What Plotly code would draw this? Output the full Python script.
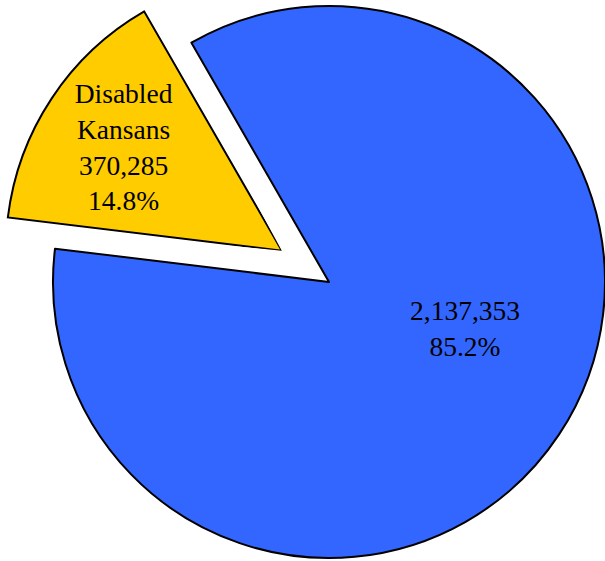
import math
import plotly.graph_objects as go

# Kansas population split by disability status
labels = ["Disabled Kansans", "Other Kansans"]
values = [370285, 2137353]
colors = ["#FFCC00", "#3366FF"]
label_names = ["Disabled<br>Kansans", ""]

W, H = 605, 561
FONT = "Liberation Serif"
FONT_SIZE = 27.5
EDGE = 2

total = sum(values)
shares = [v / total for v in values]
spans = [s * 360.0 for s in shares]

# geometry of the pie (pixels)
start_ccw = 29.9      # edge of the disabled wedge, degrees counterclockwise from 12 o'clock
pull = 0.205          # explode distance as a fraction of the radius
R = 276
cx, cy = 329, 282

fig = go.Figure()

# main pie: only the large slice is painted, the exploded one is drawn separately
fig.add_trace(go.Pie(
    labels=labels,
    values=values,
    sort=False,
    direction="clockwise",
    rotation=-(start_ccw + spans[0]),
    marker=dict(colors=["rgba(0,0,0,0)", colors[1]],
                line=dict(color=["rgba(0,0,0,0)", "black"], width=EDGE)),
    textinfo="none",
    hoverinfo="skip",
    showlegend=False,
    domain=dict(x=[(cx - R) / W, (cx + R) / W],
                y=[1 - (cy + R) / H, 1 - (cy - R) / H]),
))

# exploded wedge as a polar bar in a sector-limited polar subplot
mid = start_ccw + spans[0] / 2
apex_x = cx - pull * R * math.sin(math.radians(mid))
apex_y = cy - pull * R * math.cos(math.radians(mid))

pad = 1.5
rmax = 1.015
a0 = 90 + start_ccw - pad
a1 = 90 + start_ccw + spans[0] + pad
xs = [0.0, math.cos(math.radians(a0)), math.cos(math.radians(a1))]
ys = [0.0, math.sin(math.radians(a0)), math.sin(math.radians(a1))]
for k in (0, 90, 180, 270, 360, 450):
    if a0 <= k <= a1:
        xs.append(math.cos(math.radians(k)))
        ys.append(math.sin(math.radians(k)))
Rp = R * rmax
left = apex_x + Rp * min(xs)
right = apex_x + Rp * max(xs)
top = apex_y - Rp * max(ys)
bottom = apex_y - Rp * min(ys)

fig.add_trace(go.Barpolar(
    r=[1],
    theta=[mid],
    width=[spans[0]],
    marker=dict(color=colors[0], line=dict(color="black", width=EDGE)),
    hoverinfo="skip",
    showlegend=False,
    subplot="polar",
))

# wedge label, placed a little inside the wedge's bisector
fig.add_trace(go.Scatterpolar(
    r=[0.68],
    theta=[mid + 1],
    mode="text",
    text=[f"{label_names[0]}<br>{values[0]:,}<br>{shares[0] * 100:.1f}%"],
    textfont=dict(family=FONT, size=FONT_SIZE, color="black"),
    textposition="middle center",
    cliponaxis=False,
    hoverinfo="skip",
    showlegend=False,
    subplot="polar",
))

fig.update_layout(
    width=W,
    height=H,
    margin=dict(l=0, r=0, t=0, b=0),
    paper_bgcolor="white",
    plot_bgcolor="white",
    showlegend=False,
    polar=dict(
        domain=dict(x=[left / W, right / W], y=[1 - bottom / H, 1 - top / H]),
        sector=[a0, a1],
        bgcolor="rgba(0,0,0,0)",
        radialaxis=dict(range=[0, rmax], visible=False),
        angularaxis=dict(rotation=90, direction="counterclockwise", visible=False),
    ),
    annotations=[dict(
        x=465 / W, y=1 - 328 / H, xref="paper", yref="paper",
        text=f"{values[1]:,}<br>{shares[1] * 100:.1f}%",
        showarrow=False,
        font=dict(family=FONT, size=FONT_SIZE, color="black"),
        xanchor="center", yanchor="middle",
    )],
)

fig.write_html("out.html")
